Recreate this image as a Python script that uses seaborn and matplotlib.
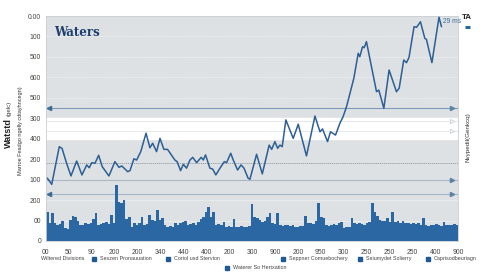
import matplotlib
matplotlib.use("Agg")
import matplotlib.pyplot as plt
from matplotlib.lines import Line2D
import numpy as np
import seaborn as sns

# ========================================================
# Data
# ========================================================
x_labels = ["00", "50", "90", "200", "200", "340", "440", "400", "200", "300",
            "900", "200", "950", "300", "250", "250", "250", "400", "900"]
y_ticks = [0, 100, 200, 300, 400, 500, 600, 700, 800, 900, 1000, 1100]
y_labels = ["0", "00", "200", "100", "200", "400", "300", "500", "600", "500", "100", "0.00"]

line_x = [0.06, 0.25, 0.58, 0.70, 0.90, 1.09, 1.34, 1.57, 1.78, 1.89, 2.00, 2.14,
          2.30, 2.46, 2.75, 3.01, 3.19, 3.31, 3.57, 3.67, 3.84, 3.96, 4.14, 4.37,
          4.54, 4.66, 4.83, 4.98, 5.15, 5.31, 5.63, 5.73, 5.88, 6.00, 6.14, 6.29,
          6.41, 6.58, 6.78, 6.87, 6.97, 7.16, 7.28, 7.42, 7.60, 7.79, 7.89, 8.07,
          8.18, 8.37, 8.52, 8.65, 8.83, 8.91, 9.20, 9.45, 9.75, 9.86, 10.00, 10.12,
          10.22, 10.32, 10.48, 10.80, 11.02, 11.38, 11.75, 11.97, 12.08, 12.30, 12.43,
          12.65, 12.84, 12.98, 13.13, 13.28, 13.45, 13.64, 13.71, 13.83, 13.90, 14.00,
          14.22, 14.44, 14.54, 14.76, 14.99, 15.31, 15.43, 15.63, 15.75, 15.86, 16.08,
          16.19, 16.36, 16.55, 16.62, 16.86, 17.17, 17.28]
line_y = [307, 277, 461, 453, 380, 318, 391, 323, 372, 358, 383, 380,
          419, 363, 318, 388, 360, 367, 339, 344, 402, 396, 437, 527,
          456, 478, 437, 502, 448, 448, 396, 388, 344, 375, 356, 396,
          409, 383, 409, 396, 421, 356, 352, 323, 356, 388, 383, 429,
          396, 347, 372, 356, 307, 302, 424, 328, 469, 448, 486, 453,
          469, 461, 592, 502, 571, 416, 611, 534, 548, 486, 534,
          518, 576, 608, 657, 722, 796, 918, 901, 950, 945, 975,
          852, 730, 738, 649, 836, 730, 747, 885, 872, 898, 1048,
          1045, 1072, 991, 986, 872, 1094, 1048]

bar_heights = [140, 86, 135, 86, 78, 82, 100, 62, 58, 103, 122, 115, 100, 78, 80,
               86, 82, 90, 106, 135, 78, 85, 86, 92, 84, 127, 90, 274, 192, 184,
               200, 106, 119, 70, 86, 80, 90, 119, 78, 82, 127, 103, 96, 152, 103,
               110, 78, 70, 74, 68, 86, 80, 88, 94, 98, 78, 84, 86, 80, 92, 106,
               119, 143, 168, 119, 143, 78, 82, 76, 94, 70, 72, 68, 106, 70, 66,
               72, 68, 70, 72, 181, 119, 112, 103, 94, 98, 119, 138, 86, 82, 135,
               78, 74, 80, 76, 72, 78, 70, 66, 72, 74, 122, 86, 90, 84, 96, 184,
               119, 110, 78, 74, 80, 82, 76, 88, 94, 62, 66, 70, 112, 86, 82, 90,
               84, 80, 88, 92, 187, 143, 120, 103, 96, 100, 110, 94, 143, 94, 100,
               90, 98, 88, 86, 82, 88, 84, 90, 80, 112, 78, 74, 80, 76, 82, 78, 74,
               94, 78, 80, 76, 82, 78]

legend_row1 = ["Seszen Pronauuation", "Coriol usd Stervion", "Seppner Comuebochery",
               "Seiumydet Solierry", "Caprisodbeuriagn"]
legend_row2 = "Waterer So Hertxation"

# ========================================================
# Plot
# ========================================================
sns.set_style("white")
plt.rcParams["font.family"] = ["Liberation Sans", "DejaVu Sans"]

fig = plt.figure(figsize=(5, 2.72), dpi=100)
ax = fig.add_axes([0.092, 0.114, 0.824, 0.827])
ax.set_facecolor("#dde1e3")

xmax = len(x_labels) - 1
ax.set_xlim(0, xmax)
ax.set_ylim(0, 1100)

# white band and grid lines
ax.axhspan(500, 600, color="white", zorder=0.5)
for v in [700, 800, 900, 1000]:
    ax.axhline(v, color="#eef0f1", lw=0.6, ls=(0, (2, 1)), zorder=0.6)
for v in [100, 200]:
    ax.axhline(v, color="#eef0f1", lw=0.5, zorder=0.6)
ax.axhline(538, color="#e2e5e7", lw=0.6, zorder=0.6)
ax.axhline(585, color="#e2e5e7", lw=0.6, zorder=0.6)
ax.plot([17.75, 17.75], [538, 585], ls="none", marker=">", ms=3,
        mfc="white", mec="#c8ced3", mew=0.6, zorder=1)
ax.axhline(380, color="#8f989f", lw=0.6, ls=(0, (1.5, 1)), zorder=0.7)
ax.axhline(300, color="#a8b8c6", lw=0.8, zorder=0.7)
ax.axhline(650, color="#7d9ab6", lw=0.8, zorder=0.7)
ax.axhline(230, color="#a8b8c6", lw=0.8, zorder=0.7)
ax.plot([0.15, 0.15], [650, 230], ls="none", marker="<", ms=3, color="#3d6a96", zorder=1)
ax.plot([17.75, 17.75, 17.75], [650, 300, 230], ls="none", marker=">", ms=3,
        color="#5b83a8", zorder=1)

# bars
n = len(bar_heights)
w = xmax / n
bar_pos = np.arange(n) * w
ax.bar(bar_pos, bar_heights, width=w * 1.05, align="edge", color="#2b67a2",
       linewidth=0, zorder=2)

# line
sns.lineplot(x=line_x, y=line_y, color="#2c5f94", linewidth=1.1, ax=ax, zorder=3)

ax.set_xticks(range(len(x_labels)))
ax.set_xticklabels(x_labels)
ax.set_yticks(y_ticks)
ax.set_yticklabels(y_labels)
ax.tick_params(axis="both", labelsize=4.9, colors="#444444", length=1.5, width=0.4,
               pad=2)
ax.tick_params(axis="x", pad=4)
for s in ax.spines.values():
    s.set_color("#c9cfd3")
    s.set_linewidth(0.6)

# titles / annotations
ax.text(0.02, 0.955, "Waters", transform=ax.transAxes, family="DejaVu Serif",
        fontweight="bold", fontsize=8.5, color="#1d3e6e", va="top")
ax.text(17.33, 1075, "29 ms", fontsize=4.8, color="#3d6a96", va="center")
fig.text(0.924, 0.935, "TA", fontsize=5.8, fontweight="bold", color="#222222",
         va="center")
fig.add_artist(Line2D([0.929, 0.940], [0.9, 0.9], transform=fig.transFigure,
                      color="#2b67a2", lw=2.2, solid_capstyle="butt"))

fig.text(0.016, 0.51, "Watstd", rotation=90, fontsize=6.5, fontweight="bold",
         color="#222222", va="center", ha="center")
fig.text(0.018, 0.60, "(gelc)", rotation=90, fontsize=4.3, color="#333333",
         va="center", ha="center")
fig.text(0.042, 0.52, "Marroe Feadgo ngelly cdtayhncegn)", rotation=90,
         fontsize=4.0, color="#333333", va="center", ha="center")
fig.text(0.936, 0.495, "Nvypedil(Genkcq)", rotation=90, fontsize=4.5,
         color="#333333", va="center", ha="center")

# legend drawn as figure texts
fig.text(0.082, 0.048, "Wiltered Divisions", fontsize=3.9, color="#444444", va="center")
leg_x = [0.188, 0.336, 0.566, 0.72, 0.856]
for lx, lab in zip(leg_x, legend_row1):
    fig.add_artist(Line2D([lx], [0.048], transform=fig.transFigure, marker="s",
                          ms=2.8, color="#1f5a96", ls="none"))
    fig.text(lx + 0.012, 0.048, lab, fontsize=3.9, color="#444444", va="center")
fig.add_artist(Line2D([0.454], [0.016], transform=fig.transFigure, marker="s",
                      ms=2.8, color="#1f5a96", ls="none"))
fig.text(0.466, 0.016, legend_row2, fontsize=3.9, color="#444444", va="center")

fig.savefig("out.png", dpi=100)
